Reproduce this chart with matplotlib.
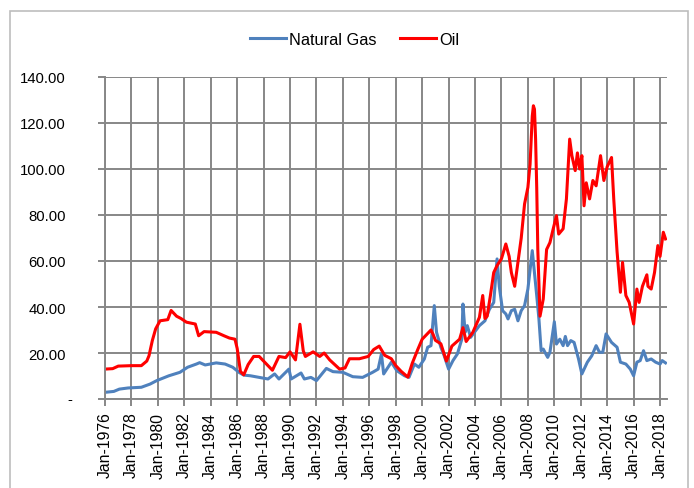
import matplotlib
matplotlib.use("Agg")
import matplotlib.pyplot as plt
import matplotlib.dates as mdates
from matplotlib.patches import Rectangle
import pandas as pd

gas_dates = ["1976-01", "1976-09", "1977-02", "1977-10", "1978-10", "1979-06", "1979-12",
             "1980-11", "1981-09", "1982-04", "1982-12", "1983-03", "1983-08", "1984-06",
             "1985-02", "1985-09", "1986-03", "1986-07", "1987-01", "1987-09", "1988-05",
             "1988-11", "1989-03", "1989-12", "1990-02", "1990-11", "1991-02", "1991-08",
             "1992-01", "1992-10", "1993-04", "1994-01", "1994-10", "1995-07", "1996-04",
             "1996-09", "1996-12", "1997-02", "1997-09", "1998-02", "1998-09", "1999-01",
             "1999-06", "1999-10", "2000-03", "2000-06", "2000-09", "2000-12", "2001-02",
             "2001-06", "2001-09", "2002-01", "2002-05", "2002-09", "2003-01", "2003-02",
             "2003-04", "2003-06", "2003-09", "2004-05", "2004-10", "2005-02", "2005-06",
             "2005-09", "2005-11", "2006-02", "2006-05", "2006-07", "2006-10", "2007-01",
             "2007-04", "2007-07", "2007-10", "2008-01", "2008-05", "2008-09", "2008-11",
             "2009-01", "2009-03", "2009-07", "2009-09", "2010-01", "2010-03", "2010-06",
             "2010-09", "2010-11", "2011-01", "2011-04", "2011-07", "2011-11", "2012-02",
             "2012-07", "2012-11", "2013-03", "2013-06", "2013-09", "2013-12", "2014-05",
             "2014-10", "2015-01", "2015-06", "2015-10", "2016-01", "2016-04", "2016-07",
             "2016-10", "2017-01", "2017-05", "2017-09", "2018-01", "2018-03", "2018-06"]
gas_values = [2.9, 3.3, 4.3, 4.8, 5.1, 6.5, 8.0,
              10.1, 11.6, 13.8, 15.2, 15.8, 14.8, 15.7,
              15.2, 13.8, 11.5, 10.4, 10.1, 9.4, 8.7,
              10.9, 8.7, 13.0, 8.7, 11.3, 8.7, 9.4,
              8.0, 13.3, 11.9, 11.6, 9.7, 9.4, 11.6,
              13.0, 19.6, 10.9, 16.0, 12.3, 10.1, 9.4,
              15.2, 13.8, 17.4, 22.5, 23.2, 40.6, 29.0,
              22.5, 18.8, 13.0, 16.7, 19.6, 26.0, 41.3,
              29.0, 31.9, 26.8, 31.9, 34.0, 39.0, 42.0,
              60.9, 49.0, 38.4, 37.0, 34.8, 38.4, 39.0,
              34.0, 38.4, 40.6, 47.8, 64.5, 45.0, 34.8,
              21.0, 21.7, 18.1, 20.3, 33.6, 23.9, 26.0,
              23.2, 27.2, 23.2, 25.4, 24.6, 17.4, 10.9,
              16.0, 18.8, 23.2, 20.3, 20.3, 28.3, 24.6,
              22.5, 16.0, 15.2, 13.0, 10.1, 16.0, 16.7,
              21.0, 16.7, 17.4, 16.0, 15.2, 16.7, 15.7]

oil_dates = ["1976-01", "1976-08", "1977-01", "1978-01", "1978-10", "1979-03", "1979-05",
             "1979-08", "1979-11", "1980-03", "1980-10", "1981-01", "1981-06", "1981-10",
             "1982-03", "1982-11", "1983-02", "1983-07", "1984-06", "1985-01", "1985-06",
             "1985-11", "1986-01", "1986-04", "1986-07", "1986-11", "1987-04", "1987-09",
             "1988-02", "1988-09", "1989-03", "1989-09", "1990-01", "1990-06", "1990-10",
             "1991-01", "1991-03", "1991-10", "1992-04", "1992-08", "1993-01", "1993-10",
             "1994-03", "1994-07", "1995-04", "1995-12", "1996-05", "1996-10", "1997-03",
             "1997-09", "1998-01", "1998-06", "1998-12", "1999-04", "1999-09", "2000-01",
             "2000-06", "2000-09", "2000-11", "2001-01", "2001-06", "2001-11", "2002-04",
             "2002-11", "2003-02", "2003-05", "2003-11", "2004-05", "2004-08", "2004-10",
             "2004-12", "2005-03", "2005-06", "2005-09", "2006-01", "2006-05", "2006-08",
             "2006-10", "2007-01", "2007-04", "2007-07", "2007-10", "2008-01", "2008-03",
             "2008-05", "2008-06", "2008-07", "2008-08", "2008-09", "2008-10", "2008-12",
             "2009-03", "2009-06", "2009-09", "2009-12", "2010-03", "2010-05", "2010-09",
             "2010-12", "2011-03", "2011-05", "2011-08", "2011-10", "2011-12", "2012-02",
             "2012-04", "2012-06", "2012-09", "2012-12", "2013-03", "2013-07", "2013-10",
             "2014-01", "2014-05", "2014-07", "2014-10", "2015-01", "2015-03", "2015-06",
             "2015-09", "2016-01", "2016-04", "2016-06", "2016-09", "2017-01", "2017-02",
             "2017-05", "2017-08", "2017-11", "2018-01", "2018-04", "2018-06"]
oil_values = [13.0, 13.2, 14.3, 14.5, 14.5, 16.5, 18.8,
              25.4, 30.5, 34.0, 34.5, 38.5, 36.0, 35.0,
              33.4, 32.6, 27.5, 29.3, 29.0, 27.5, 26.5,
              26.0, 22.0, 12.0, 10.5, 15.0, 18.5, 18.5,
              16.0, 12.5, 18.5, 18.0, 20.5, 17.0, 32.5,
              21.0, 18.5, 20.5, 18.5, 20.0, 17.0, 13.0,
              13.5, 17.5, 17.5, 18.5, 21.5, 23.0, 19.0,
              17.5, 14.5, 12.0, 9.5, 15.5, 21.5, 26.0,
              28.5, 30.0, 28.0, 25.5, 24.0, 16.5, 23.0,
              26.0, 31.0, 25.0, 29.0, 35.5, 45.0, 35.0,
              36.0, 45.0, 55.0, 58.0, 61.0, 67.4, 62.0,
              55.0, 49.0, 59.5, 70.0, 84.8, 92.0, 102.0,
              123.0, 127.5, 126.0, 113.0, 92.0, 65.0, 36.0,
              43.5, 65.0, 68.0, 74.0, 79.7, 71.7, 74.0,
              87.0, 113.0, 105.8, 99.3, 107.0, 100.0, 105.8,
              84.0, 94.0, 87.0, 95.0, 92.7, 105.8, 95.0,
              101.0, 105.0, 87.0, 64.0, 46.4, 59.4, 45.0,
              42.0, 32.6, 47.8, 42.0, 49.0, 54.0, 49.0,
              47.8, 55.0, 66.7, 62.0, 72.5, 69.6]

y_ticks = [0, 20, 40, 60, 80, 100, 120, 140]

FONT = ["Liberation Sans", "DejaVu Sans"]
GRID = "#878787"

plt.rcParams["font.family"] = FONT

fig = plt.figure(figsize=(6.94, 4.89), dpi=100)
ax = fig.add_axes([0.1513, 0.182, 0.8097, 0.6585])

# outer chart border (bottom is cut off in the reference)
fig.patches.append(Rectangle((0.0144, -0.1), 0.977, 1.0755, transform=fig.transFigure,
                             fill=False, edgecolor="#bdbdbd", linewidth=1.2))

gas_x = pd.to_datetime(gas_dates)
oil_x = pd.to_datetime(oil_dates)
ax.plot(gas_x, gas_values, color="#4F81BD", linewidth=2.2, label="Natural Gas")
ax.plot(oil_x, oil_values, color="#FF0000", linewidth=2.2, label="Oil")

ax.set_xlim(pd.Timestamp("1976-01-01"), pd.Timestamp("2018-07-10"))
ax.set_ylim(0, 140)
ax.xaxis.set_major_locator(mdates.YearLocator(2, month=1, day=1))
ax.xaxis.set_major_formatter(mdates.DateFormatter("Jan-%Y"))
ax.set_yticks(y_ticks)
ax.set_yticklabels(["" if v == 0 else f"{v:.2f}" for v in y_ticks])
ax.annotate("-", xy=(-0.062, 0), xycoords=("axes fraction", "data"),
            ha="center", va="center", fontsize=10.7)

ax.grid(True, color=GRID, linewidth=1.4)
ax.set_axisbelow(True)
for side in ["top", "right"]:
    ax.spines[side].set_visible(False)
for side in ["left", "bottom"]:
    ax.spines[side].set_color(GRID)
    ax.spines[side].set_linewidth(1.4)

ax.tick_params(axis="x", direction="out", length=5, width=1.4, color=GRID,
               labelsize=11.3, rotation=90, pad=4)
ax.tick_params(axis="y", direction="out", length=5, width=1.4, color=GRID,
               labelsize=10.7, pad=23)

fig.legend(loc="center", bbox_to_anchor=(0.511, 0.918), ncol=2, frameon=False,
           fontsize=11.8, handlelength=2.2, handletextpad=0.2, columnspacing=1.4)

plt.savefig("out.png", dpi=100)
